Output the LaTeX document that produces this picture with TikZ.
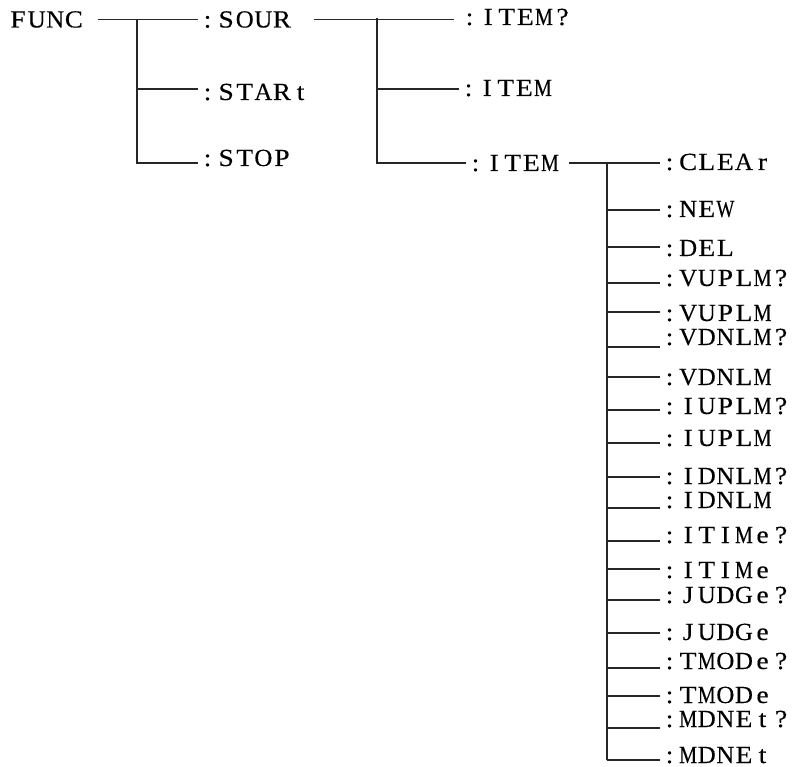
\documentclass[tikz,border=0pt]{standalone}
\usepackage{fontspec}
\usepackage{graphicx}
\setmainfont{Liberation Serif}[FakeStretch=1.12,FakeBold=0.3]
\newcommand\fitchar[1]{\sbox0{#1}\ifdim\wd0>18pt\resizebox{18pt}{\height}{#1}\else#1\fi}
\newcommand\spaced[1]{\spacedloop#1\relax}
\newcommand\spacedloop[1]{\ifx\relax#1\else\makebox[18.6pt]{\fitchar{#1}}\expandafter\spacedloop\fi}
\tikzstyle{cmd}=[anchor=west,inner sep=0pt,text height=16pt,text depth=0pt,font=\fontsize{24.6}{28}\selectfont]
\tikzstyle{tree}=[line width=1.1pt,draw=black!85]

\begin{document}
\begin{tikzpicture}[x=1pt,y=-1pt,tree]
\useasboundingbox (0,0) rectangle (793,767);
% first level
\node[cmd] (FUNC) at (8.2,19.5) {\spaced{FUNC}};
\node[cmd] (SOUR) at (197.7,19.5) {\spaced{:SOUR}};
\node[cmd] (STAR) at (197.7,92) {\spaced{:STARt}};
\node[cmd] (STOP) at (197.7,158) {\spaced{:STOP}};
\coordinate (J1) at (137,19.5);
\coordinate (J1b) at (137,89);
\coordinate (J1c) at (137,163);
\draw[shorten <=14pt](FUNC.east)--(SOUR.west);
\draw(J1)--(J1c)--(J1c -| STOP.west);
\draw(J1b)--(J1b -| STAR.west);
% second level
\node[cmd] (ITEMQ) at (459.7,17) {\spaced{:ITEM?}};
\node[cmd] (ITEMS) at (458.7,88) {\spaced{:ITEM}};
\node[cmd] (ITEM) at (465.7,163) {\spaced{:ITEM}};
\coordinate (J2) at (377,18);
\coordinate (J2b) at (377,89);
\coordinate (J2c) at (377,163);
\draw[shorten <=22pt,shorten >=6pt](SOUR.east)--(SOUR.east -| ITEMQ.west);
\draw(J2)--(J2c)--(J2c -| ITEM.west);
\draw(J2b)--(J2b -| ITEMS.west);
% third level
\draw[shorten <=9pt,shorten >=5pt](ITEM.east)--(ITEM.east -| 659.7,0);
\foreach \n/\ly/\ty [count=\i] in {:CLEAr/163/162,:NEW/210/209,:DEL/247/248,
  :VUPLM?/283/278,:VUPLM/312/313,:VDNLM?/347/337,:VDNLM/377/377,
  :IUPLM?/410/406,:IUPLM/443/438,:IDNLM?/477/476,:IDNLM/508/500,
  :ITIMe?/541/535,:ITIMe/569/570,:JUDGe?/600/595,:JUDGe/633/632,
  :TMODe?/668/661,:TMODe/696/695,:MDNEt?/728/719,:MDNEt/760/755}{
  \node[cmd] (C\i) at (659.7,\ty) {\expandafter\spaced\expandafter{\n}};
  \coordinate (T\i) at (607,\ly);
  \draw(T\i)--(T\i -| C\i.west);
}
\draw(T1)--(T19);
\end{tikzpicture}
\end{document}
